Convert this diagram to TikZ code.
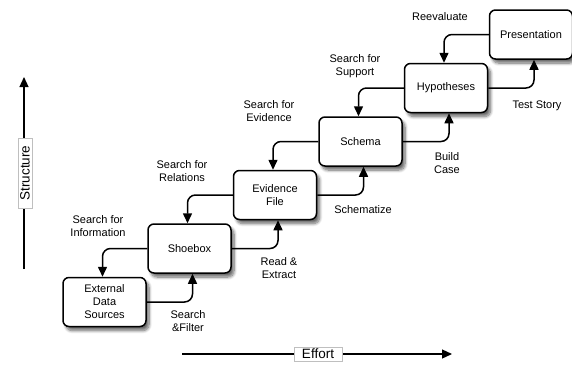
\documentclass[tikz,border=0pt]{standalone}
\usepackage{fontspec}
\setmainfont{Liberation Sans}
\usepackage{tikz}
\usetikzlibrary{arrows.meta}
\usetikzlibrary{shadows.blur}
\usetikzlibrary{positioning}
\colorlet{myshadow}{black}
\colorlet{myframe}{black!25}
\tikzset{
  >={Triangle[length=10pt,width=9pt]}, % filled arrow head
  stage/.style={draw,line width=1.5pt,rounded corners=6pt,fill=white,
    minimum width=83,minimum height=49,align=center,font=\fontsize{11}{13}\selectfont,
    blur shadow={shadow xshift=3pt,shadow yshift=-4pt,shadow blur steps=8,
      shadow blur radius=3pt,shadow opacity=60}},
  step label/.style={align=center,font=\fontsize{11}{13}\selectfont},
  flow/.style={->,line width=1.5pt,rounded corners=8pt},
  axis/.style={->,line width=1.2pt},
  axis label/.style={draw=myframe,fill=white,inner sep=2pt,font=\fontsize{13.5}{15}\selectfont}
}
\begin{document}
\begin{tikzpicture}[x=1pt,y=-1pt]
  \useasboundingbox (0,0) rectangle (572,365);
  % stages
  \node[stage] (ext)   at (104.5,302)  {External\\Data\\Sources};
  \node[stage] (shoe)  at (189.5,248.5){Shoebox};
  \node[stage] (evid)  at (275,195)    {Evidence\\File};
  \node[stage] (schem) at (360.5,141.5){Schema};
  \node[stage] (hyp)   at (446,88)     {Hypotheses};
  \node[stage] (pres)  at (531,34.5)   {Presentation};
  % loops between neighbouring stages
  \foreach \lo/\hi in {ext/shoe,shoe/evid,evid/schem,schem/hyp,hyp/pres}{
    \draw[flow] (\lo.east) -| ([xshift=3pt]\hi.south);
    \draw[flow] (\hi.west) -| ([xshift=-2pt]\lo.north);
  }
  % labels
  \node[step label] (l1)  at (98,226)  {Search for\\Information};
  \node[step label] (l2)  at (188,321) {Search\\\&Filter};
  \node[step label] (l3)  at (182,171) {Search for\\Relations};
  \node[step label] (l4)  at (279,268) {Read \&\\Extract};
  \node[step label] (l5)  at (269,111) {Search for\\Evidence};
  \node[step label] (l6)  at (363,210) {Schematize};
  \node[step label] (l7)  at (355,66.5){Search for\\Support};
  \node[step label] (l8)  at (447,163) {Build\\Case};
  \node[step label] (l9)  at (440,17)  {Reevaluate};
  \node[step label] (l10) at (537,106) {Test Story};
  % axes
  \coordinate (s0) at (24,269);
  \coordinate (s1) at (24,77);
  \draw[axis] (s0) -- (s1);
  \node[axis label,rotate=90,minimum width=70] (struct) at (25,173) {Structure};
  \coordinate (e0) at (182,354);
  \coordinate (e1) at (452,354);
  \draw[axis] (e0) -- (e1);
  \node[axis label,minimum width=48] (effort) at (318,354) {Effort};
\end{tikzpicture}
\end{document}
